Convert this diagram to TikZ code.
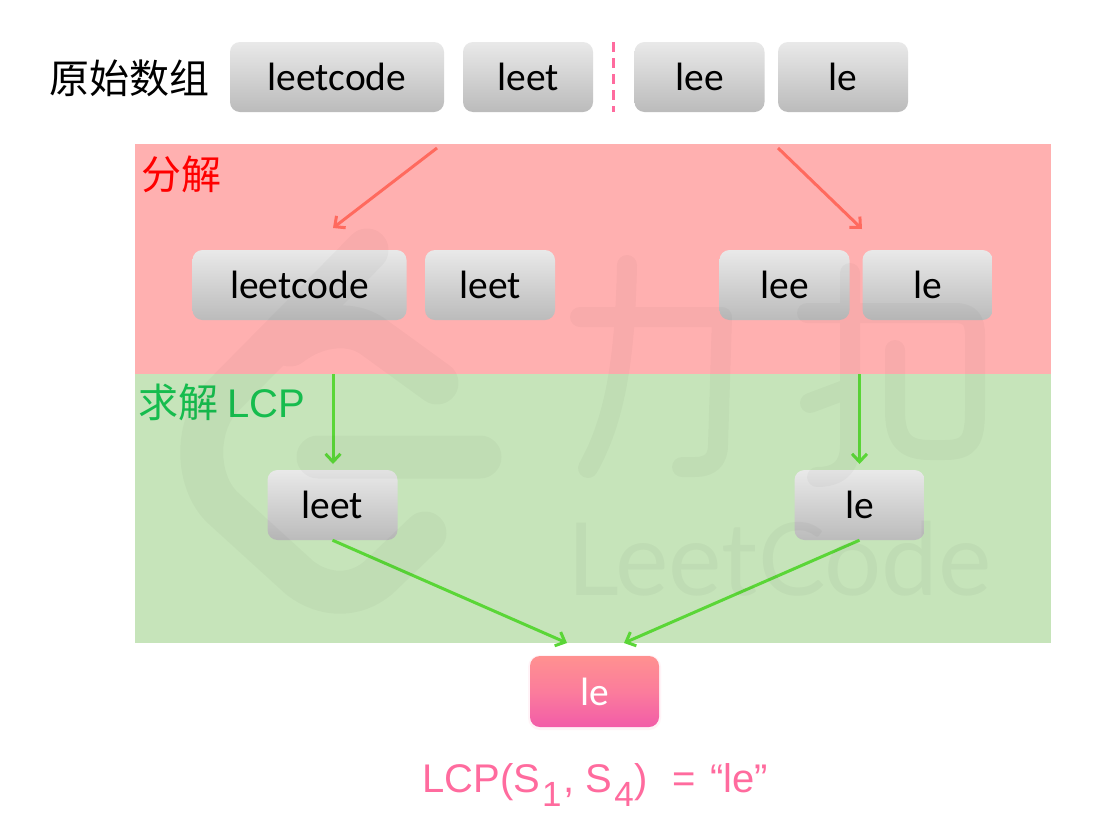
\documentclass[tikz,border=0pt]{standalone}
\usepackage{fontspec}
\setmainfont{Carlito}
\newfontfamily\cjk{Noto Sans CJK SC}
\newfontfamily\arialish{Liberation Sans}
\newfontfamily\wmfont{Lato}
\usetikzlibrary{arrows.meta}
\definecolor{bandred}{HTML}{FFB0B0}
\definecolor{bandgreen}{HTML}{C6E4BA}
\definecolor{arrred}{HTML}{FF6A5E}
\definecolor{arrgreen}{HTML}{5AD637}
\definecolor{lblgreen}{HTML}{16BC4E}
\definecolor{lblpink}{HTML}{FF6B9E}
\definecolor{boxtop}{HTML}{E9E9E9}
\definecolor{boxbot}{HTML}{BBBBBB}
\definecolor{restop}{HTML}{FF9190}
\definecolor{resmid}{HTML}{FB7C9C}
\definecolor{resbot}{HTML}{F25CA8}
\tikzset{
  x=1pt,y=-1pt,
  strbox/.style={rounded corners=10pt,minimum height=70pt,inner sep=0pt,top color=boxtop,bottom color=boxbot,font=\fontsize{39.5}{39.5}\selectfont,text=black},
  wide/.style={minimum width=214pt},
  narrow/.style={minimum width=130pt},
  resbox/.style={rounded corners=10pt,minimum height=71pt,minimum width=129pt,inner sep=0pt,top color=restop,bottom color=resbot,middle color=resmid,font=\fontsize{39.5}{39.5}\selectfont,text=white},
  heading/.style={inner sep=0pt,anchor=west,font=\cjk\fontsize{40}{40}\selectfont},
  redarrow/.style={draw=arrred,line width=3pt,-{Straight Barb[length=8pt,width=15pt,line width=3pt]}},
  greenarrow/.style={draw=arrgreen,line width=3pt,-{Straight Barb[length=8pt,width=15pt,line width=3pt]}},
  wmark/.style={draw=black,opacity=.027,line cap=round,line join=round},
}
\begin{document}
\begin{tikzpicture}
\useasboundingbox (0,0) rectangle (1105,833);
\fill[white] (0,0) rectangle (1105,833);
% bands
\fill[bandred] (135,144) rectangle (1051,374);
\fill[bandgreen] (135,374) rectangle (1051,642.5);
% row 1
\node[heading] (title) at (49,78) {原始数组};
\node[strbox,wide] (a1) at (337,77) {leetcode};
\node[strbox,narrow] (a2) at (528,77) {leet};
\node[strbox,narrow] (a3) at (699.5,77) {lee};
\node[strbox,narrow] (a4) at (843,77) {le};
\coordinate (d1) at (613,42);
\coordinate (d2) at (613,112);
\draw[draw=lblpink,line width=3pt,dash pattern=on 10pt off 6pt] (d1) -- (d2);
% labels
\node[heading,text=red] (lsplit) at (141,174) {分解};
\node[heading,text=lblgreen] (lsolve) at (138,402) {求解 {\arialish LCP}};
% row 2
\node[strbox,wide] (b1) at (299.5,285) {leetcode};
\node[strbox,narrow] (b2) at (490,285) {leet};
\node[strbox,narrow] (b3) at (784.5,285) {lee};
\node[strbox,narrow] (b4) at (927.5,285) {le};
% row 3
\node[strbox,narrow] (c1) at (332.5,505) {leet};
\node[strbox,narrow] (c2) at (859.5,505) {le};
% result
\fill[lblpink!8,rounded corners=12pt] (528,655) rectangle (661,730);
\node[resbox] (res) at (594.5,691.5) {le};
\node[inner sep=0pt,anchor=base west,text=lblpink,font=\arialish\fontsize{40}{40}\selectfont] (formula) at (422,792)
  {LCP(S\hspace{2pt}\raisebox{-14pt}{\fontsize{35}{35}\selectfont 1}\hspace{2pt}, S\hspace{2pt}\raisebox{-14pt}{\fontsize{35}{35}\selectfont 4}\hspace{1pt})\hspace{24pt}=\hspace{15pt}“le”};
% connector ends
\coordinate (r1s) at (437,148);
\coordinate (r1e) at (333,228);
\coordinate (r2s) at (778,148);
\coordinate (r2e) at (862,229);
\coordinate (g1s) at (333,374);
\coordinate (g1e) at (333,464);
\coordinate (g2s) at (859.5,374);
\coordinate (g2e) at (859.5,464);
\coordinate (m1) at (567,643);
\coordinate (m2) at (624,643);
\draw[redarrow] (r1s) -- (r1e);
\draw[redarrow] (r2s) -- (r2e);
\draw[greenarrow] (g1s) -- (g1e);
\draw[greenarrow] (g2s) -- (g2e);
\draw[greenarrow] (c1.south) -- (m1);
\draw[greenarrow] (c2.south) -- (m2);
% watermark
\path[wmark,line width=43pt]
  (367,250) -- (222,397) .. controls (195,425) and (195,480) .. (222,507)
  -- (300,578) .. controls (325,597) and (355,597) .. (378,578) -- (425,533)
  (437,383) -- (375,338) .. controls (355,322) and (320,322) .. (290,345)
  (318,457) -- (480,457);
\path[wmark,line width=20pt]
  (580,317) -- (722,317) -- (718,445) .. controls (718,460) and (710,467) .. (695,467) -- (682,467)
  (627,265) .. controls (625,360) and (615,420) .. (588,468)
  (807,313) -- (850,313)
  (850,273) -- (850,445) .. controls (850,470) and (835,477) .. (817,477)
  (810,403) -- (850,388)
  (895,350) -- (895,410) .. controls (895,440) and (905,450) .. (930,450) -- (945,450) .. controls (970,450) and (975,440) .. (975,410)
  -- (975,335) .. controls (975,320) and (970,313) .. (955,313) -- (850,313);
\node[opacity=.03,inner sep=0pt,anchor=base west,font=\wmfont\fontsize{101}{101}\selectfont] (wm) at (567,595) {LeetCode};
\end{tikzpicture}
\end{document}
